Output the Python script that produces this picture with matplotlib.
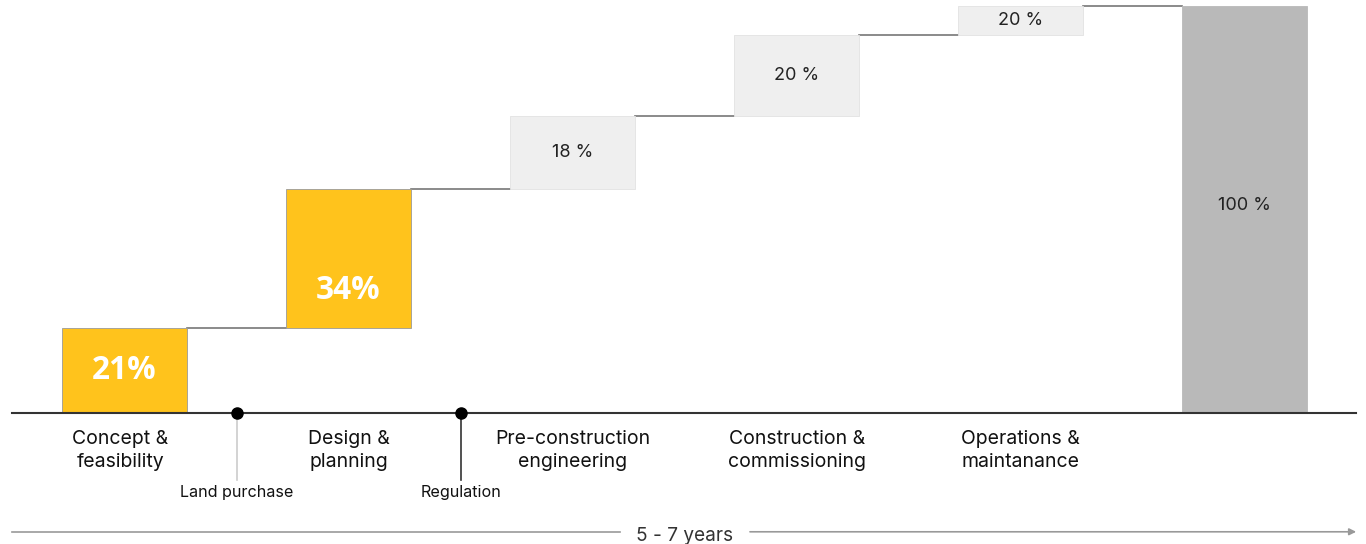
"""
Waterfall of project lifecycle share per phase
"""
import matplotlib

matplotlib.use("Agg")

import matplotlib.pyplot as plt

# data
phases = ["Concept &\nfeasibility", "Design &\nplanning", "Pre-construction\nengineering",
          "Construction &\ncommissioning", "Operations &\nmaintanance", ""]
shares = [21, 34, 18, 20, 20]
total = 100
value_labels = ["21%", "34%", "18 %", "20 %", "20 %", "100 %"]
milestones = ["Land purchase", "Regulation"]
milestone_pos = [0.5, 1.5]          # between phases
timeline_label = "5 - 7 years"

# styles
yellow = "#FFC31C"
light = "#EFEFEF"
total_col = "#B9B9B9"
bar_w = 0.558
label_frac = [0.5, 0.27, 0.5, 0.5, 0.5, 0.51]

plt.rcParams["font.family"] = ["Inter", "DejaVu Sans"]

fig = plt.figure(figsize=(13.66, 5.44), dpi=100)
ax = fig.add_axes([0, 0, 1, 1])
ax.set_xlim(-0.556, 5.542)
ax.set_ylim(-32.2, 101.5)
ax.axis("off")

# bars (clip running total at the total)
bottoms, tops = [], []
run = 0
for s in shares:
    bottoms.append(min(run, total))
    run += s
    tops.append(min(run, total))
bottoms.append(0)
tops.append(total)

colors = [yellow, yellow, light, light, light, total_col]
edges = ["#9a9a9a", "#9a9a9a", "#e2e2e2", "#e2e2e2", "#e2e2e2", total_col]
xs = list(range(len(tops)))
for i, x in enumerate(xs):
    ax.bar(x, tops[i] - bottoms[i], bottom=bottoms[i], width=bar_w,
           color=colors[i], edgecolor=edges[i], linewidth=0.6, zorder=2)
    y = bottoms[i] + (tops[i] - bottoms[i]) * label_frac[i]
    if i < 2:
        ax.text(x, y, value_labels[i], ha="center", va="center", color="white",
                fontsize=22.8, fontweight="bold", family=["Open Sans", "DejaVu Sans"], zorder=3)
    else:
        ax.text(x, y, value_labels[i], ha="center", va="center", color="#222222",
                fontsize=13, zorder=3)

# connectors
for i in range(len(xs) - 1):
    ax.plot([xs[i] + bar_w / 2, xs[i + 1] - bar_w / 2], [tops[i], tops[i]],
            color="#777777", lw=1.2, zorder=1)

# baseline
ax.plot([-0.502, 5.498], [0, 0], color="#333333", lw=1.5, zorder=3)

# phase labels
for x, name in zip(xs, phases):
    ax.text(x - (0.02 if x == 0 else 0), -4.1, name, ha="center", va="top",
            fontsize=14, color="#111111", linespacing=1.38)

# milestones
line_cols = ["#cccccc", "#333333"]
for m, p, c in zip(milestones, milestone_pos, line_cols):
    ax.plot([p, p], [0, -16.5], color=c, lw=1.2, zorder=2)
    ax.plot(p, 0, "o", color="black", ms=8, zorder=4)
    ax.text(p, -19.6, m, ha="center", va="center", fontsize=11.6, color="#111111")

# timeline arrow
ax.plot([-0.502, 2.212], [-29.2, -29.2], color="#999999", lw=1.2)
ax.annotate("", xy=(5.498, -29.2), xytext=(2.792, -29.2),
            arrowprops=dict(arrowstyle="-|>", color="#999999", lw=1.2,
                            mutation_scale=10, shrinkA=0, shrinkB=0))
ax.text(2.502, -30.2, timeline_label, ha="center", va="center", fontsize=13.7,
        color="#333333")

fig.savefig("out.png", dpi=100)
